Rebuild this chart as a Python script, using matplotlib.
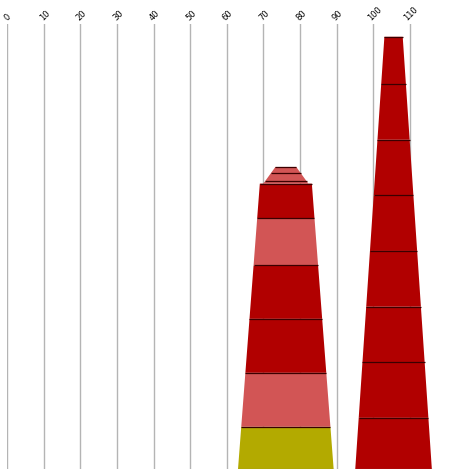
import numpy as np
import matplotlib
matplotlib.use('Agg')
import matplotlib.pyplot as plt
from matplotlib.patches import Polygon
from matplotlib.transforms import ScaledTranslation

# Данные: положение башен по оси X и высоты сегментов (снизу вверх)
tick_values = [0, 10, 20, 30, 40, 50, 60, 70, 80, 90, 100, 110]

left_center = 76.1
left_heights = [7.6, 9.7, 9.7, 9.6, 8.5, 6.2]
left_kinds = ['yellow', 'pink', 'red', 'red', 'pink', 'red']
left_cap_heights = [0.4, 1.5, 1.1]
left_cap_kinds = ['pink', 'pink', 'pink']

right_center = 105.5
right_heights = [9.2, 10.0, 10.0, 10.0, 10.0, 10.0, 10.0, 8.5]
right_kinds = ['red'] * 8

COLORS = {'red': '#b10000', 'pink': '#d25555', 'yellow': '#b3aa00'}
LINE_COLOR = '#3a0000'


def draw_segments(ax, center, heights, kinds, y0, w_bottom, w_top):
    """
    Рисует стопку трапеций с линейным сужением от w_bottom до w_top
    """
    total = sum(heights)
    slope = (w_bottom - w_top) / total
    y = y0
    for h, kind in zip(heights, kinds):
        wb = w_bottom - slope * (y - y0)
        wt = w_bottom - slope * (y + h - y0)
        pts = [(center - wb / 2, y), (center + wb / 2, y),
               (center + wt / 2, y + h), (center - wt / 2, y + h)]
        ax.add_patch(Polygon(pts, closed=True, facecolor=COLORS[kind],
                             edgecolor='none', zorder=2))
        # линия на верхней границе сегмента
        ax.plot([center - wt / 2, center + wt / 2], [y + h, y + h],
                color=LINE_COLOR, lw=0.9, zorder=3, solid_capstyle='butt')
        y += h
    return y


fig = plt.figure(figsize=(4.52, 4.77), dpi=100)
ax = fig.add_axes([7 / 452, 7 / 477, 445 / 452, 445 / 477])
ax.set_xlim(0, 445 / 3.664)
ax.set_ylim(0, 80)

# сетка
for v in tick_values:
    ax.axvline(v, color='#b4b4b4', lw=1.0, zorder=1)

# левая башня: основное тело и "шапка"
body_top = draw_segments(ax, left_center, left_heights, left_kinds, 0, 26.1,
                         26.1 - 0.232 * sum(left_heights))
draw_segments(ax, left_center, left_cap_heights, left_cap_kinds, body_top, 12.3, 5.7)

# правая башня
draw_segments(ax, right_center, right_heights, right_kinds, 0, 20.9, 5.0)

# нижние кромки
ax.plot([left_center - 13.05, left_center + 13.05], [0.05, 0.05], color='#808080', lw=0.8, zorder=3)
ax.plot([right_center - 10.45, right_center + 10.45], [0.05, 0.05], color='#808080', lw=0.8, zorder=3)

# подписи оси сверху, повернутые на 45 градусов
ax.xaxis.tick_top()
ax.set_xticks(tick_values)
ax.set_xticklabels([str(v) for v in tick_values])
ax.tick_params(axis='x', length=0, pad=2, labelsize=6)
offset = ScaledTranslation(1 / 100, 0, fig.dpi_scale_trans)
for label in ax.get_xticklabels():
    label.set_rotation(45)
    label.set_ha('center')
    label.set_va('bottom')
    label.set_transform(label.get_transform() + offset)
ax.set_yticks([])
for s in ax.spines.values():
    s.set_visible(False)

fig.savefig('out.png', dpi=100)
